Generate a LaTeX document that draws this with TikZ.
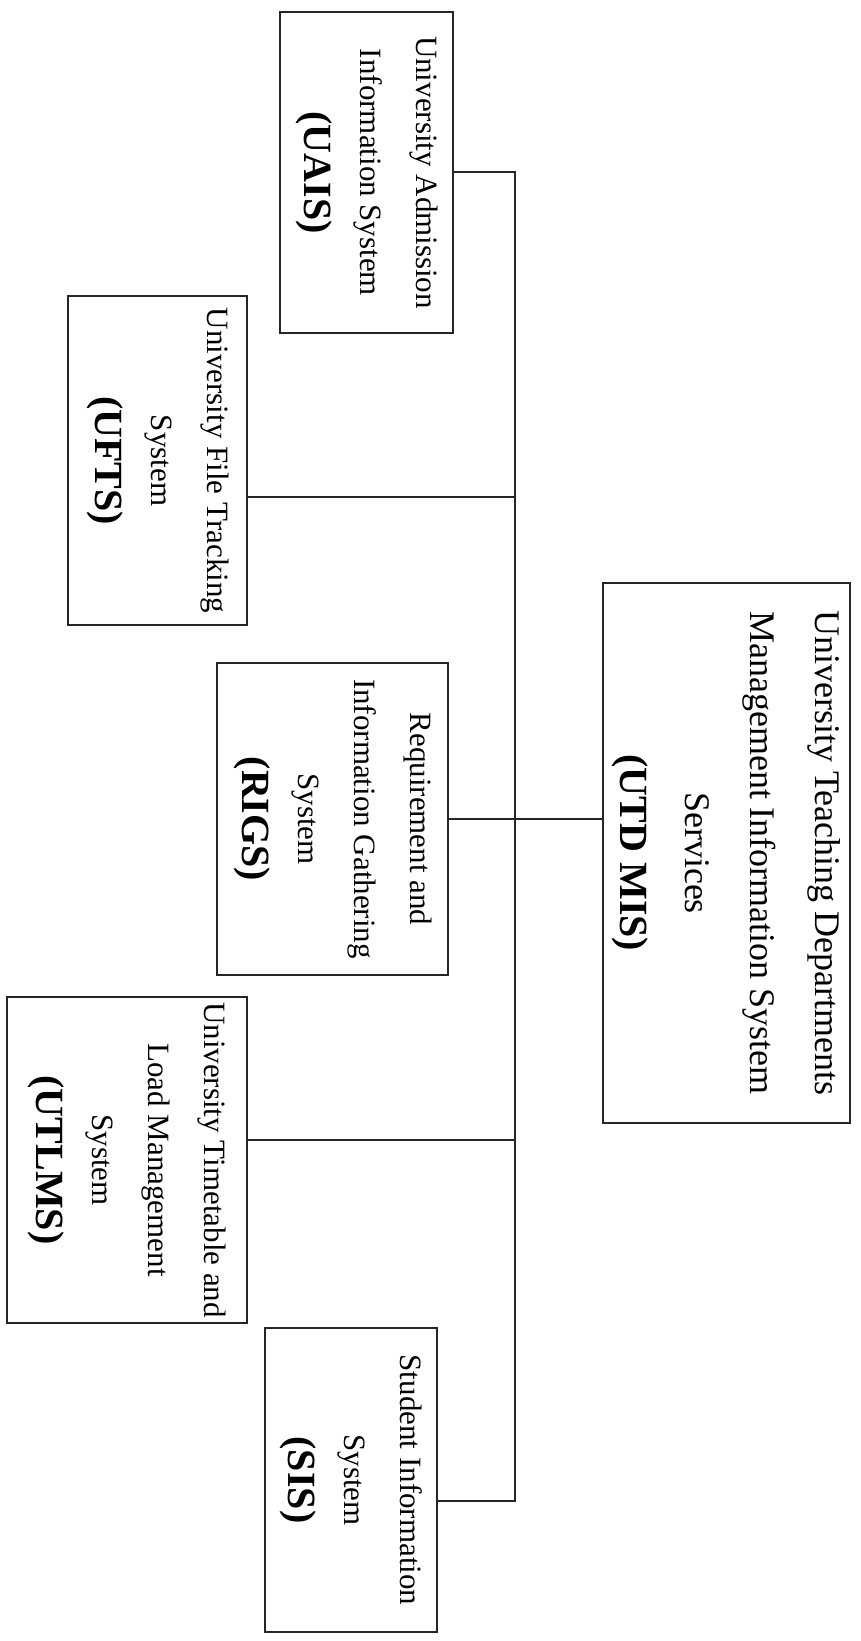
\documentclass[tikz,border=0pt]{standalone}
\usepackage{fontspec}
\setmainfont{Liberation Serif}
\usepackage{tikz}
\usetikzlibrary{calc}

\tikzset{
  sysbox/.style={draw=black!85, line width=1.5pt, rotate=-90, align=center, inner sep=0pt,
    font=\fontsize{23.25}{42}\selectfont},
  bigbox/.style={sysbox, font=\fontsize{27}{48.75}\selectfont},
  link/.style={draw=black!85, line width=1.5pt},
}
\newcommand{\abbr}[1]{{\fontsize{30}{42}\selectfont\bfseries #1}}

\begin{document}
\begin{tikzpicture}[x=0.75pt,y=0.75pt,yscale=-1,xscale=1]
\useasboundingbox (0,0) rectangle (860,1641);

%Shape: Rectangle (admission)
\node [sysbox, minimum width=240.75pt, minimum height=129.75pt] (uais) at (366.5,172.5)
  {University Admission\\Information System\\\abbr{(UAIS)}};
%Shape: Rectangle (file tracking)
\node [sysbox, minimum width=246.75pt, minimum height=134.25pt] (ufts) at (157.5,460.5)
  {University File Tracking\\System\\\abbr{(UFTS)}};
%Shape: Rectangle (requirement)
\node [sysbox, minimum width=234pt, minimum height=173.25pt] (rigs) at (332.5,819)
  {Requirement and\\Information Gathering\\System\\\abbr{(RIGS)}};
%Shape: Rectangle (main service)
\node [bigbox, minimum width=405pt, minimum height=185.25pt] (utd) at (726.5,853)
  {University Teaching Departments\\Management Information System\\Services\\\abbr{(UTD MIS)}};
%Shape: Rectangle (timetable)
\node [sysbox, minimum width=244.5pt, minimum height=180pt] (utlms) at (127,1160)
  {University Timetable and\\Load Management\\System\\\abbr{(UTLMS)}};
%Shape: Rectangle (student)
\node [sysbox, minimum width=228pt, minimum height=129pt] (sis) at (351,1480)
  {Student Information\\System\\\abbr{(SIS)}};

%Straight Lines (trunk)
\coordinate (tbot) at (515,1501);
\draw [link] (uais.north) -| (tbot) -- (sis.north |- tbot);
\draw [link] ($(ufts.north)+(0,36.5)$) coordinate (b2) -- (b2 -| tbot);
\draw [link] ($(utlms.north)+(0,-20)$) coordinate (b4) -- (b4 -| tbot);
\draw [link] (rigs.north) -- (rigs.north -| utd.south);

\end{tikzpicture}
\end{document}
